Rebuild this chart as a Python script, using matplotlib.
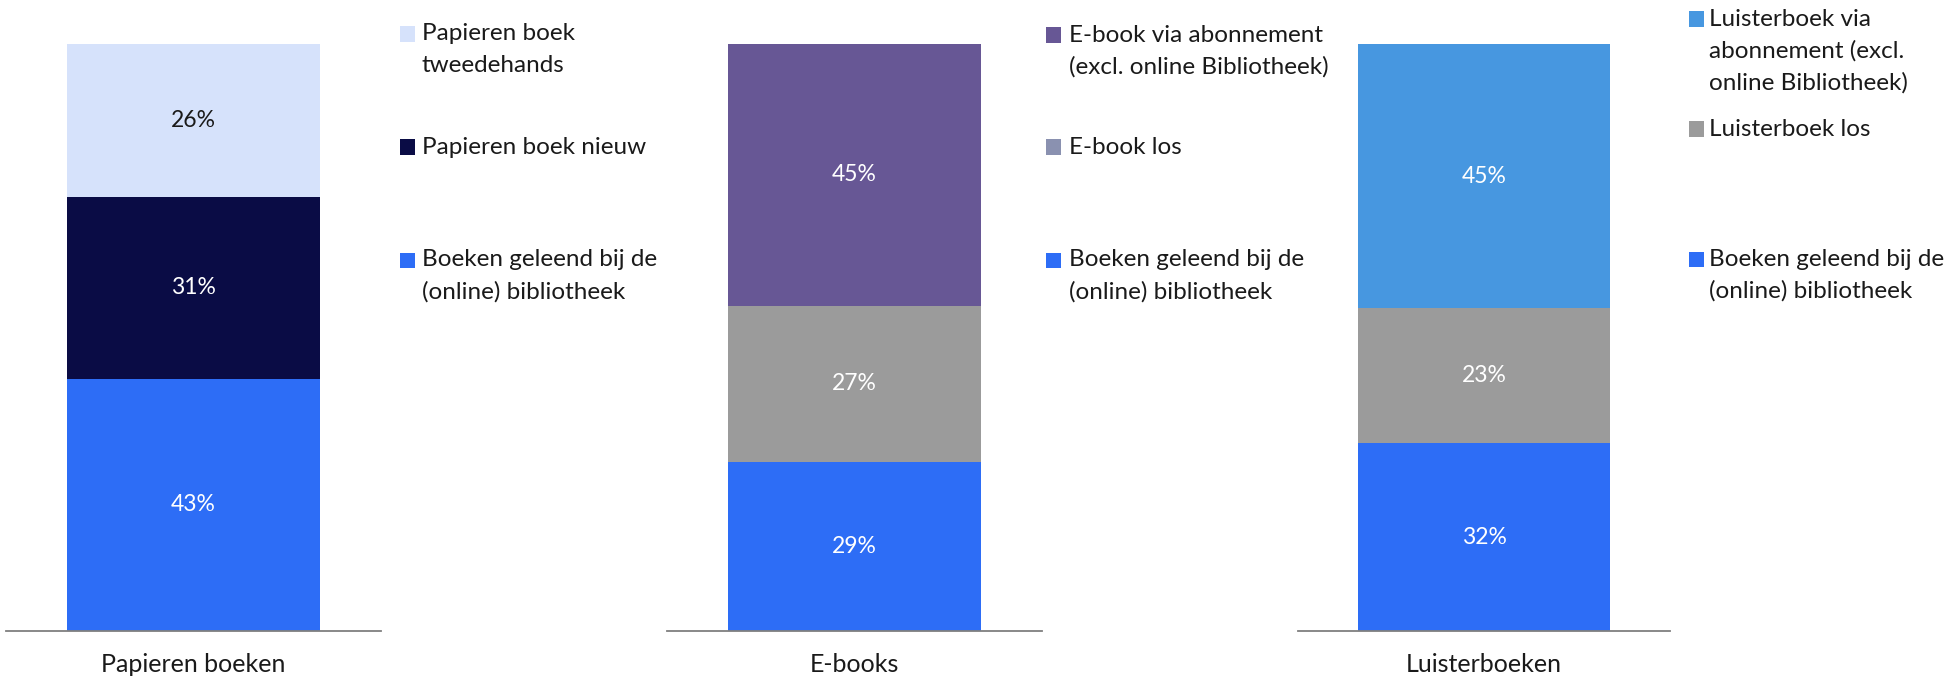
import matplotlib
matplotlib.use("Agg")
import matplotlib.pyplot as plt
from matplotlib.patches import Rectangle

plt.rcParams['font.family'] = ['Lato', 'DejaVu Sans']

# ---------------- data ----------------
categories = ["Papieren boeken", "E-books", "Luisterboeken"]

paper_series = ["Boeken geleend bij de\n(online) bibliotheek",
                "Papieren boek nieuw",
                "Papieren boek\ntweedehands"]
paper_values = [43, 31, 26]

ebook_series = ["Boeken geleend bij de\n(online) bibliotheek",
                "E-book los",
                "E-book via abonnement\n(excl. online Bibliotheek)"]
ebook_values = [29, 27, 45]

audio_series = ["Boeken geleend bij de\n(online) bibliotheek",
                "Luisterboek los",
                "Luisterboek via\nabonnement (excl.\nonline Bibliotheek)"]
audio_values = [32, 23, 45]

# ---------------- styles ----------------
paper_colors = ["#2D6DF6", "#0A0C45", "#D6E2FB"]
paper_legend_colors = ["#2D6DF6", "#0A0C45", "#D6E2FB"]
paper_text_colors = ["white", "white", "#1a1a1a"]

ebook_colors = ["#2D6DF6", "#9B9B9B", "#675795"]
ebook_legend_colors = ["#2D6DF6", "#8A91B0", "#675795"]
ebook_text_colors = ["white", "white", "white"]

audio_colors = ["#2D6DF6", "#9B9B9B", "#4797E0"]
audio_legend_colors = ["#2D6DF6", "#9B9B9B", "#4797E0"]
audio_text_colors = ["white", "white", "white"]

W, H = 1952, 680
fig = plt.figure(figsize=(W / 100, H / 100), dpi=100)

panels = [
    dict(series=paper_series, values=paper_values, colors=paper_colors,
         lcolors=paper_legend_colors, tcolors=paper_text_colors,
         ax_x=(6, 381), mark_x=400, text_x=422, item_y=[34, 147, 260]),
    dict(series=ebook_series, values=ebook_values, colors=ebook_colors,
         lcolors=ebook_legend_colors, tcolors=ebook_text_colors,
         ax_x=(667, 1042), mark_x=1046, text_x=1069, item_y=[35, 147, 260]),
    dict(series=audio_series, values=audio_values, colors=audio_colors,
         lcolors=audio_legend_colors, tcolors=audio_text_colors,
         ax_x=(1298, 1670), mark_x=1689, text_x=1709, item_y=[19, 129, 259]),
]

y_top, y_bot = 44, 631
fs_data = 16.5
fs_cat = 18
fs_leg = 17.5
line_gap = 32
mark_size = 15

for cat, p in zip(categories, panels):
    x0, x1 = p["ax_x"]
    ax = fig.add_axes([x0 / W, (H - y_bot) / H, (x1 - x0) / W, (y_bot - y_top) / H])
    total = sum(p["values"])
    bottom = 0
    for val, col, tcol in zip(p["values"], p["colors"], p["tcolors"]):
        share = val / total * 100
        ax.bar([cat], [share], bottom=bottom, width=0.675, color=col, linewidth=0)
        ax.text(0, bottom + share / 2, f"{val}%", ha="center", va="center",
                color=tcol, fontsize=fs_data)
        bottom += share
    ax.set_xlim(-0.5, 0.5)
    ax.set_ylim(0, 100)
    for s in ["top", "left", "right"]:
        ax.spines[s].set_visible(False)
    ax.spines["bottom"].set_color("#7f7f7f")
    ax.spines["bottom"].set_linewidth(1.3)
    ax.set_yticks([])
    ax.tick_params(axis="x", length=0, pad=16, labelsize=fs_cat, labelcolor="#1a1a1a")

    # legend (top series first)
    items = list(zip(p["series"], p["lcolors"]))[::-1]
    for (label, lc), yc in zip(items, p["item_y"]):
        fig.patches.append(Rectangle(
            (p["mark_x"] / W, (H - yc - mark_size / 2) / H),
            mark_size / W, mark_size / H,
            transform=fig.transFigure, facecolor=lc, edgecolor="none"))
        for i, line in enumerate(label.split("\n")):
            fig.text(p["text_x"] / W, (H - yc - i * line_gap) / H, line,
                     ha="left", va="center", fontsize=fs_leg, color="#1a1a1a")

fig.savefig("out.png", dpi=100, facecolor="white")
